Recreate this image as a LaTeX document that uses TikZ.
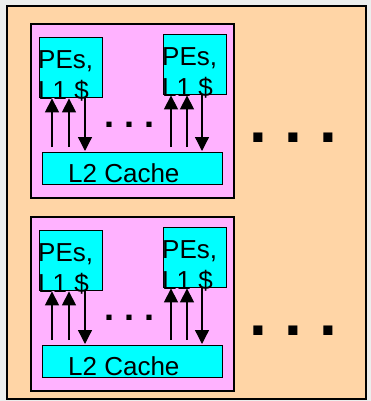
\documentclass[tikz,border=0pt]{standalone}
\usepackage{fontspec}
\setmainfont{Liberation Sans}
\usetikzlibrary{arrows.meta,positioning,calc}
\definecolor{margin}{RGB}{236,238,237}
\definecolor{peach}{RGB}{255,213,166}
\definecolor{board}{RGB}{255,178,255}
\definecolor{chip}{RGB}{0,255,255}
\tikzset{
  smpnode/.style={draw=black,line width=1.4pt,fill=board},
  pe/.style={draw=black,line width=1.4pt,fill=chip,anchor=north west,inner sep=0pt,
    minimum width=63pt,minimum height=60pt},
  cache/.style={draw=black,line width=1.4pt,fill=chip,anchor=north west,inner sep=0pt,
    minimum width=180pt,minimum height=32pt},
  lbl/.style={inner sep=0pt,font=\fontsize{26}{31}\selectfont,align=left},
  bus/.style={-{Triangle[length=14pt,width=14pt]},line width=1.3pt},
  more/.style={inner sep=0pt,anchor=base west},
}
\begin{document}
\begin{tikzpicture}[x=1pt,y=-1pt]
  \useasboundingbox[fill=margin] (0,0) rectangle (371,401);
  \draw[fill=peach,line width=1.8pt] (7,6) rectangle (366,399);
  % two SMP nodes, same layout
  \foreach \g/\dy in {A/0,B/193}{
    \draw[smpnode] (31,24+\dy) rectangle (234,198+\dy);
    \node[pe] (peL\g) at (39,37+\dy) {};
    \node[pe] (peR\g) at (163,34+\dy) {};
    \node[cache] (l2\g) at (42,152+\dy) {};
    \node[lbl,anchor=north west] (tL\g) at ($(peL\g.north west)+(-1,13)$) {PEs,\\L1 \$};
    \node[lbl,anchor=north west] (tR\g) at ($(peR\g.north west)+(-1,13)$) {PEs,\\L1 \$};
    \node[lbl,anchor=base west] (t2\g) at (68,182+\dy) {L2 Cache};
    \coordinate (u1\g) at (52,0); \coordinate (u2\g) at (69,0); \coordinate (d1\g) at (85,0);
    \coordinate (u3\g) at (171,0); \coordinate (u4\g) at (187,0); \coordinate (d2\g) at (202,0);
    \draw[bus] ($(l2\g.north -| u1\g)+(0,-5)$) -- (peL\g.south -| u1\g);
    \draw[bus] ($(l2\g.north -| u2\g)+(0,-5)$) -- (peL\g.south -| u2\g);
    \draw[bus] (peL\g.south -| d1\g) -- ($(l2\g.north -| d1\g)+(0,-1)$);
    \draw[bus] ($(l2\g.north -| u3\g)+(0,-5)$) -- (peR\g.south -| u3\g);
    \draw[bus] ($(l2\g.north -| u4\g)+(0,-5)$) -- (peR\g.south -| u4\g);
    \draw[bus] (peR\g.south -| d2\g) -- ($(l2\g.north -| d2\g)+(0,-1)$);
    \node[more,font=\fontsize{36}{36}\selectfont\bfseries] (dots\g) at (104,127+\dy) {.\kern10pt.\kern10pt.};
    \node[more,font=\fontsize{64}{64}\selectfont\bfseries] (etc\g) at (249,142+\dy) {.\kern17.5pt.\kern17.5pt.};
  }
\end{tikzpicture}
\end{document}
